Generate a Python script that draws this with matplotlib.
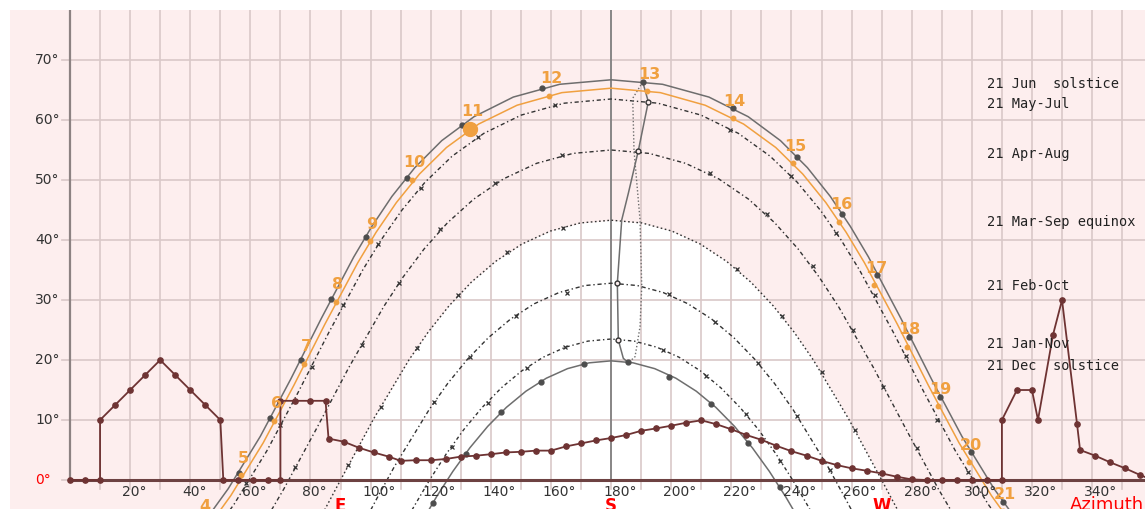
import numpy as np
import matplotlib
matplotlib.use('Agg')
import matplotlib.pyplot as plt

# ---------------- data (azimuth deg, altitude deg) ----------------
jun_az = [46.98, 52.64, 63.30, 73.44, 83.56, 94.39, 100.41, 107.08, 114.71, 123.66, 134.40, 147.46, 162.90, 180.0,
          197.10, 212.54, 225.60, 236.34, 245.29, 252.92, 259.59, 265.61, 276.44, 286.56, 296.70, 307.36, 313.02]
jun_alt = [-5.37, -1.44, 7.27, 16.83, 26.89, 37.17, 42.26, 47.26, 52.06, 56.56, 60.55, 63.82, 65.95, 66.70,
           65.95, 63.82, 60.55, 56.56, 52.06, 47.26, 42.26, 37.17, 26.89, 16.83, 7.27, -1.44, -5.37]

today_az = [47.77, 53.49, 64.27, 74.51, 84.75, 95.72, 101.81, 108.57, 116.26, 125.24, 135.92, 148.71, 163.62, 180.0,
            196.38, 211.29, 224.08, 234.76, 243.74, 251.43, 258.19, 264.28, 275.25, 285.49, 295.73, 306.51, 312.23]
today_alt = [-6.57, -2.60, 6.20, 15.82, 25.93, 36.20, 41.28, 46.24, 51.00, 55.42, 59.32, 62.46, 64.56, 65.30,
             64.56, 62.46, 59.32, 55.42, 51.00, 46.24, 41.28, 36.20, 25.93, 15.82, 6.20, -2.60, -6.57]

may_az = [48.77, 54.57, 65.48, 75.84, 86.21, 97.34, 103.52, 110.35, 118.10, 127.09, 137.66, 150.12, 164.43, 180.0,
          195.57, 209.88, 222.34, 232.91, 241.90, 249.65, 256.48, 262.66, 273.79, 284.16, 294.52, 305.43, 311.23]
may_alt = [-8.08, -4.04, 4.86, 14.56, 24.70, 34.97, 40.03, 44.94, 49.63, 53.96, 57.77, 60.82, 62.80, 63.50,
           62.80, 60.82, 57.77, 53.96, 49.63, 44.94, 40.03, 34.97, 24.70, 14.56, 4.86, -4.04, -8.08]

apr_az = [65.53, 71.12, 81.92, 92.75, 104.37, 110.78, 117.78, 125.57, 134.32, 144.18, 155.24, 167.30, 180.0,
          192.70, 204.76, 215.82, 225.68, 234.43, 242.22, 249.22, 255.63, 267.25, 278.08, 288.88, 294.47]
apr_alt = [-6.28, -1.50, 8.49, 18.75, 28.91, 33.81, 38.50, 42.87, 46.82, 50.18, 52.78, 54.43, 55.00,
           54.43, 52.78, 50.18, 46.82, 42.87, 38.50, 33.81, 28.91, 18.75, 8.49, -1.50, -6.28]

equ_az = [84.53, 90.0, 101.03, 112.79, 119.18, 126.05, 133.47, 141.58, 150.31, 159.79, 169.74, 180.0,
          190.26, 200.21, 209.69, 218.42, 226.53, 233.95, 240.82, 247.21, 258.97, 270.0, 275.47]
equ_alt = [-5.14, 0.0, 10.22, 20.05, 24.68, 29.01, 32.96, 36.44, 39.32, 41.49, 42.84, 43.30,
           42.84, 41.49, 39.32, 36.44, 32.96, 29.01, 24.68, 20.05, 10.22, 0.0, -5.14]

feb_az = [97.24, 102.63, 108.09, 119.55, 125.70, 132.22, 139.17, 146.57, 154.42, 162.70, 171.26, 180.0,
          188.74, 197.30, 205.58, 213.43, 220.83, 227.78, 234.30, 240.45, 251.91, 257.37, 262.76]
feb_alt = [-7.62, -2.56, 2.40, 11.80, 16.13, 20.13, 23.72, 26.83, 29.37, 31.25, 32.41, 32.80,
           32.41, 31.25, 29.37, 26.83, 23.72, 20.13, 16.13, 11.80, 2.40, -2.56, -7.62]

jan_az = [110.76, 114.26, 119.63, 125.19, 131.00, 137.13, 143.55, 150.31, 157.39, 164.76, 172.31, 180.0,
          187.69, 195.24, 202.61, 209.69, 216.45, 222.87, 229.00, 234.81, 240.37, 245.74, 249.24]
jan_alt = [-7.73, -4.56, 0.02, 4.37, 8.41, 12.11, 15.39, 18.20, 20.46, 22.13, 23.15, 23.50,
           23.15, 22.13, 20.46, 18.20, 15.39, 12.11, 8.41, 4.37, 0.02, -4.56, -7.73]

dec_az = [116.70, 121.93, 127.36, 133.02, 138.95, 145.17, 151.67, 158.46, 165.49, 172.69, 180.0,
          187.31, 194.51, 201.54, 208.33, 214.83, 221.05, 226.98, 232.64, 238.07, 243.30]
dec_alt = [-7.27, -2.79, 1.44, 5.37, 8.94, 12.11, 14.80, 16.97, 18.56, 19.53, 19.86,
           19.53, 18.56, 16.97, 14.80, 12.11, 8.94, 5.37, 1.44, -2.79, -7.27]

# hour marks
jun_hour_az = [56.3, 66.5, 76.7, 86.8, 98.3, 112.0, 130.3, 157.1, 190.5, 220.4, 242.0, 256.7, 268.6, 279.2, 289.4, 299.6, 310.5]
jun_hour_alt = [1.2, 10.4, 20.0, 30.2, 40.45, 50.3, 59.2, 65.3, 66.3, 62.0, 53.9, 44.4, 34.2, 23.9, 13.9, 4.7, -3.6]

hours = [4, 5, 6, 7, 8, 9, 10, 11, 12, 13, 14, 15, 16, 17, 18, 19, 20, 21]
today_hour_az = [44.2, 56.9, 68.0, 77.9, 88.5, 99.8, 113.9, 133.1, 159.5, 192.1, 220.4, 240.6, 255.9, 267.6, 278.5, 288.9, 299.1, 310.4]
today_hour_alt = [-7.3, 0.83, 9.9, 19.4, 29.7, 39.8, 50.0, 58.5, 64.05, 64.8, 60.3, 52.8, 43.05, 32.5, 22.2, 12.3, 2.95, -5.2]
now_az, now_alt = 133.1, 58.5

dec_hour_az = [120.8, 131.6, 143.4, 156.7, 171.1, 185.7, 199.4, 213.2, 225.4, 236.2]
dec_hour_alt = [-3.9, 4.3, 11.3, 16.3, 19.3, 19.7, 17.2, 12.7, 6.2, -1.2]

# small hour ticks on the monthly paths
may_tick_az = [58.5, 69.8, 80.4, 90.9, 102.6, 116.7, 135.6, 161.3, 219.6, 239.8, 254.8, 267.8, 278.1, 288.3, 298.8]
may_tick_alt = [-0.55, 9.2, 18.8, 29.1, 39.3, 48.6, 57.2, 62.5, 58.3, 50.7, 41.1, 30.8, 20.6, 10.0, 1.4]
apr_tick_az = [74.8, 97.0, 109.5, 123.1, 141.4, 163.6, 212.9, 231.8, 247.3, 260.6, 270.6, 281.6]
apr_tick_alt = [2.2, 22.5, 32.9, 41.9, 49.45, 54.2, 51.1, 44.4, 35.6, 25.0, 15.55, 5.3]
equ_tick_az = [92.6, 103.3, 115.3, 129.0, 145.3, 163.9, 221.8, 236.8, 250.1, 261.1]
equ_tick_alt = [2.5, 12.2, 22.0, 30.8, 38.05, 42.0, 35.1, 27.4, 18.0, 8.3]
feb_tick_az = [121.2, 133.1, 148.4, 165.2, 199.4, 214.6, 229.0, 241.7, 252.8]
feb_tick_alt = [13.05, 20.45, 27.4, 31.2, 31.0, 26.4, 19.45, 10.6, 1.7]
jan_tick_az = [127.0, 139.2, 151.9, 164.7, 197.4, 211.6, 224.9, 236.2]
jan_tick_alt = [5.55, 12.9, 18.7, 22.1, 21.7, 17.3, 11.0, 3.2]

# analemma at 13h
ana1_az = [190.52, 192.38, 189.05, 185.73, 183.53, 182.07, 182.40, 184.06, 185.73]
ana1_alt = [66.33, 63.05, 54.88, 47.78, 43.33, 32.78, 23.33, 20.28, 19.55]
ana2_az = [190.52, 187.19, 187.62, 189.05, 189.62, 190.19, 189.62, 187.96, 185.73]
ana2_alt = [66.33, 63.62, 54.88, 46.67, 43.33, 32.22, 25.55, 20.55, 19.55]

# horizon profile
prof_az = [0, 5, 10, 10, 15, 20, 25, 30, 35, 40, 45, 50, 51, 56, 61, 66, 70, 70, 75, 80, 85, 86,
           91, 96, 101, 106, 110, 115, 120, 125, 130, 135, 140, 145, 150, 155, 160, 165, 170, 175,
           180, 185, 190, 195, 200, 205, 210, 215, 220, 225, 230, 235, 240, 245, 250, 255, 260, 265,
           270, 275, 280, 285, 290, 295, 300, 305, 310, 310, 315, 320, 322, 327, 330, 335, 336, 341,
           346, 351, 356, 361]
prof_alt = [0, 0, 0, 10, 12.5, 15, 17.5, 20, 17.5, 15, 12.5, 10, 0, 0, 0, 0, 0, 13.2, 13.2, 13.2, 13.2, 6.9,
            6.4, 5.4, 4.6, 3.9, 3.2, 3.3, 3.3, 3.5, 3.9, 4.05, 4.3, 4.6, 4.7, 4.9, 4.9, 5.6, 6.1, 6.6,
            7.0, 7.5, 8.2, 8.6, 9.05, 9.55, 9.95, 9.3, 8.45, 7.5, 6.7, 5.7, 4.8, 4.06, 3.2, 2.5, 1.95, 1.55,
            1.1, 0.55, 0.1, 0, 0, 0, 0, 0, 0, 10, 15, 15, 10, 24.2, 30, 9.3, 5.0, 4.06,
            2.95, 1.95, 0.83, -0.2]

legend_labels = ['21 Jun  solstice', '21 May-Jul', '21 Apr-Aug', '21 Mar-Sep equinox',
                 '21 Feb-Oct', '21 Jan-Nov', '21 Dec  solstice']
legend_alt = [66.0, 62.67, 54.33, 43.0, 32.33, 22.67, 19.0]

alt_ticks = [10, 20, 30, 40, 50, 60, 70]
az_ticks = list(range(20, 360, 20))
compass = ['E', 'S', 'W']
compass_az = [90, 180, 270]

# ---------------- styles ----------------
pink = '#fdeeee'
grid_c = '#d9c8c8'
orange = '#f0a040'
brown = '#6e3333'
gray = '#6e6e6e'
dark = '#333333'
dashdot = (0, (3, 2, 1, 2))

fig = plt.figure(figsize=(11.45, 5.09), dpi=100)
ax = fig.add_axes([10 / 1145, 0, 1135 / 1145, 499 / 509])
ax.set_xlim(-19.96, 357.6)
ax.set_ylim(-4.83, 78.33)
ax.set_facecolor(pink)
for s in ax.spines.values():
    s.set_visible(False)
ax.set_xticks([])
ax.set_yticks([])

# white area under the equinox path
ea = np.array(equ_az)
ax.fill_between(ea, -10, equ_alt, where=(ea >= 90) & (ea <= 270), color='white', lw=0, zorder=0.5)

# grid
for x in range(10, 360, 10):
    ax.plot([x, x], [-1.5, 80], color=grid_c, lw=1.2, zorder=1)
for y in alt_ticks:
    ax.plot([-2.8, 360], [y, y], color=grid_c, lw=1.2, zorder=1)
ax.plot([-2.8, 0], [0, 0], color=grid_c, lw=1.2, zorder=1)
ax.plot([0, 0], [0, 80], color='#8c8282', lw=1.6, zorder=2)
ax.plot([180, 180], [0, 80], color='#7a7a7a', lw=1.2, zorder=2)

# date curves
ax.plot(may_az, may_alt, color=dark, lw=1, ls=dashdot, zorder=3)
ax.plot(apr_az, apr_alt, color=dark, lw=1, ls=dashdot, zorder=3)
ax.plot(equ_az, equ_alt, color=dark, lw=1, ls=(0, (1.2, 1.8)), zorder=3)
ax.plot(feb_az, feb_alt, color=dark, lw=1, ls=dashdot, zorder=3)
ax.plot(jan_az, jan_alt, color=dark, lw=1, ls=(0, (2.5, 2, 1, 2)), zorder=3)
ax.plot(dec_az, dec_alt, color=gray, lw=1.1, zorder=3)
ax.plot(jun_az, jun_alt, color=gray, lw=1.1, zorder=3)
ax.plot(today_az, today_alt, color=orange, lw=1.1, zorder=4)
for tx, ty in [(may_tick_az, may_tick_alt), (apr_tick_az, apr_tick_alt), (equ_tick_az, equ_tick_alt),
               (feb_tick_az, feb_tick_alt), (jan_tick_az, jan_tick_alt)]:
    ax.plot(tx, ty, 'x', ms=3, mew=0.9, color=dark, zorder=3)

# analemma
ax.plot(ana1_az, ana1_alt, color=gray, lw=1.1, zorder=3, marker='o', ms=3.5,
        mfc=pink, mec=dark, markevery=[1, 2, 5, 6])
ax.plot(ana2_az, ana2_alt, color=gray, lw=1, ls=(0, (1, 1.5)), zorder=3)

# hour dots
ax.plot(jun_hour_az, jun_hour_alt, 'o', ms=3.5, color='#4d4d4d', zorder=5)
ax.plot(dec_hour_az, dec_hour_alt, 'o', ms=3.5, color='#4d4d4d', zorder=5)
ax.plot(today_hour_az, today_hour_alt, 'o', ms=3.2, color=orange, zorder=5)
ax.plot(now_az, now_alt, 'o', ms=10, color=orange, zorder=6)
for h, x, y in zip(hours, today_hour_az, today_hour_alt):
    ax.annotate(str(h), (x, y), xytext=(2, 17), textcoords='offset pixels', ha='center', va='center',
                color=orange, fontsize=11.5, fontweight='bold', annotation_clip=False, zorder=8)

# horizon
ax.plot([0, 360], [0, 0], color='#6d4242', lw=2.2, zorder=6)
ax.plot(prof_az, prof_alt, color=brown, lw=1.3, marker='o', ms=3.8, zorder=7)

# labels
for v in alt_ticks:
    ax.text(-11.6, v, '%d°' % v, ha='left', va='center', fontsize=10, color=dark)
ax.text(-11.6, 0, '0°', ha='left', va='center', fontsize=10, color='red')
for v in az_ticks:
    ax.text(v - 2.7, -1.95, '%d°' % v, ha='left', va='center', fontsize=10, color=dark, zorder=9)
for c, x in zip(compass, compass_az):
    ax.text(x, -4.4, c, ha='center', va='center', fontsize=12, fontweight='bold', color='red')
ax.text(332.7, -4.1, 'Azimuth', ha='left', va='center', fontsize=13, color='red')

for lab, y in zip(legend_labels, legend_alt):
    ax.text(305.1, y, lab, ha='left', va='center', fontsize=9.8, family='DejaVu Sans Mono', color='#222222', zorder=9)

fig.savefig('out.png', dpi=100)
